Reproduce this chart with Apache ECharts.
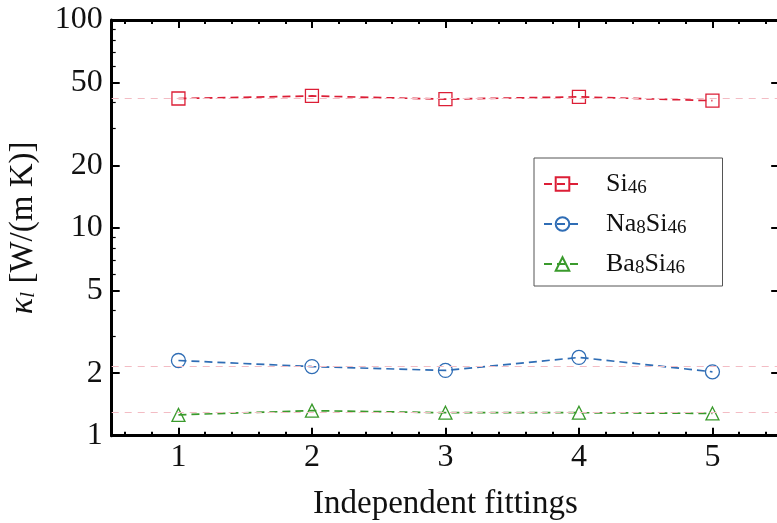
<!DOCTYPE html>
<html>
<head>
<meta charset="utf-8">
<script src="https://cdn.jsdelivr.net/npm/echarts@6/dist/echarts.min.js"></script>
<style>html,body{margin:0;padding:0;background:#fff}#c{width:777px;height:523px}</style>
</head>
<body>
<div id="c"></div>
<script>
// ---- data ----
const fittings = [1, 2, 3, 4, 5];
const si46 = [41.9, 43.1, 41.6, 42.7, 40.9];
const na8si46 = [2.30, 2.15, 2.06, 2.38, 2.03];
const ba8si46 = [1.26, 1.32, 1.29, 1.29, 1.28];
const meanLines = [42.0, 2.17, 1.29];
const seriesNames = ['Si46', 'Na8Si46', 'Ba8Si46'];
const legendLabels = ['Si{sub|46}', 'Na{sub|8}Si{sub|46}', 'Ba{sub|8}Si{sub|46}'];
const yTickValues = [1, 2, 5, 10, 20, 50, 100];
const yMinorTickValues = [3, 4, 6, 7, 8, 9, 30, 40, 60, 70, 80, 90];
const xTickValues = [1, 2, 3, 4, 5];
const xMinorTickValues = [0.6, 0.8, 1.2, 1.4, 1.6, 1.8, 2.2, 2.4, 2.6, 2.8, 3.2, 3.4, 3.6, 3.8, 4.2, 4.4, 4.6, 4.8, 5.2, 5.4];

const FONT = 'Liberation Serif';
const colors = ['#dc1e36', '#2f6db5', '#3a9a2c'];
const symbols = ['rect', 'circle', 'triangle'];
const symbolSizes = [13, 14, 13];

const chart = echarts.init(document.getElementById('c'));

function xAxisDef(pos, ticks, len, showLabel, showLine, name) {
  return {
    type: 'value', position: pos, min: 0.5, max: 5.5,
    name: name || '', nameLocation: 'middle', nameGap: 52,
    nameTextStyle: { fontFamily: FONT, fontSize: 33, color: '#111' },
    axisLine: { show: showLine, lineStyle: { color: '#000', width: 3 } },
    axisTick: { show: true, inside: true, length: len, customValues: ticks, lineStyle: { color: '#000', width: 2 } },
    axisLabel: { show: showLabel, customValues: ticks, margin: 6, fontFamily: FONT, fontSize: 32, color: '#111' },
    splitLine: { show: false }
  };
}
function yAxisDef(pos, ticks, len, showLabel, showLine, name) {
  return {
    type: 'log', logBase: 10, position: pos, min: 1, max: 100,
    name: name || '', nameLocation: 'middle', nameGap: 72, nameRotate: 90,
    nameTextStyle: {
      fontFamily: FONT, fontSize: 33, color: '#111',
      rich: {
        k: { fontFamily: FONT, fontStyle: 'italic', fontSize: 34, lineHeight: 36, verticalAlign: 'bottom' },
        s: { fontFamily: FONT, fontStyle: 'italic', fontSize: 22, lineHeight: 18, verticalAlign: 'bottom' },
        t: { fontFamily: FONT, fontSize: 33, lineHeight: 36, verticalAlign: 'bottom' }
      }
    },
    axisLine: { show: showLine, lineStyle: { color: '#000', width: 3 } },
    axisTick: { show: true, inside: true, length: len, customValues: ticks, lineStyle: { color: '#000', width: len > 5 ? 2 : 1.2 } },
    axisLabel: { show: showLabel, customValues: ticks, margin: 9, fontFamily: FONT, fontSize: 32, color: '#111' },
    splitLine: { show: false }
  };
}

const series = seriesNames.map((nm, i) => ({
  name: nm, type: 'line', xAxisIndex: 0, yAxisIndex: 0, z: 3,
  data: fittings.map((x, j) => [x, [si46, na8si46, ba8si46][i][j]]),
  symbol: symbols[i], symbolSize: symbolSizes[i], showSymbol: true,
  itemStyle: { color: 'rgba(255,255,255,0)', borderColor: colors[i], borderWidth: 1.3 },
  lineStyle: { color: colors[i], width: 1.7, type: [8, 5] },
  emphasis: { disabled: true }
}));
series.push({
  name: 'ref', type: 'line', xAxisIndex: 0, yAxisIndex: 0, z: 1, data: [],
  markLine: {
    silent: true, symbol: 'none', label: { show: false },
    lineStyle: { color: '#f3bcc4', width: 1.2, type: [7, 6] },
    data: meanLines.map(v => ({ yAxis: v }))
  }
});

chart.setOption({
  animation: false,
  grid: { left: 111.7, top: 20, width: 667.5, bottom: 87.3, containLabel: false, outerBoundsMode: 'none' },
  xAxis: [
    xAxisDef('bottom', xTickValues, 8, true, true, 'Independent fittings'),
    xAxisDef('bottom', xMinorTickValues, 4, false, false),
    xAxisDef('top', xTickValues, 8, false, true),
    xAxisDef('top', xMinorTickValues, 4, false, false)
  ],
  yAxis: [
    yAxisDef('left', yTickValues, 8, true, true, '{k|κ}{s|l}{t| [W/(m K)]}'),
    yAxisDef('left', yMinorTickValues, 4, false, false),
    yAxisDef('right', yTickValues, 8, false, false)
  ],
  legend: {
    data: seriesNames, orient: 'vertical', left: 534, top: 158,
    padding: [12, 36, 8, 9], itemWidth: 37, itemHeight: 17, itemGap: 12,
    borderColor: '#555', borderWidth: 1, backgroundColor: '#fff',
    formatter: name => legendLabels[seriesNames.indexOf(name)],
    textStyle: {
      fontFamily: FONT, fontSize: 26, lineHeight: 28, color: '#111', padding: [0, 0, 0, 20],
      rich: {
        sub: { fontFamily: FONT, fontSize: 19, lineHeight: 16, verticalAlign: 'bottom' }
      }
    }
  },
  series: series
});
</script>
</body>
</html>
